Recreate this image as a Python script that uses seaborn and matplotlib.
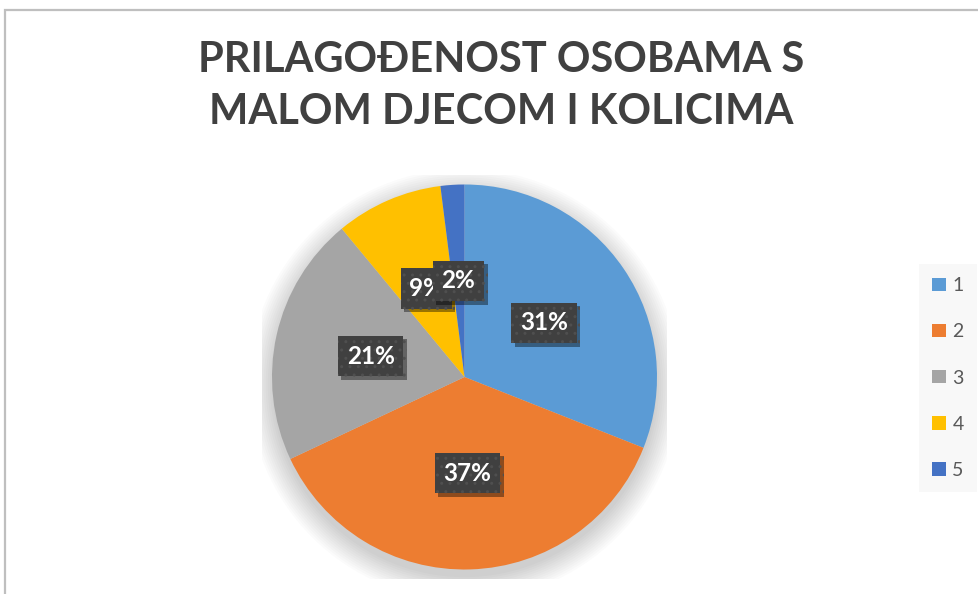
import matplotlib
matplotlib.use("Agg")
import matplotlib.pyplot as plt
import matplotlib.patheffects as pe
from matplotlib.patches import Patch, Circle, Rectangle
import seaborn as sns

# Data
categories = ["1", "2", "3", "4", "5"]
shares = [31, 37, 21, 9, 2]
slice_colors = ["#5B9BD5", "#ED7D31", "#A5A5A5", "#FFC000", "#4472C4"]
title_text = "PRILAGOĐENOST OSOBAMA S\nMALOM DJECOM I KOLICIMA"

sns.set_theme(style="white")
plt.rcParams["font.family"] = ["Lato", "DejaVu Sans"]
palette = sns.color_palette(slice_colors)

W, H = 979, 594
fig = plt.figure(figsize=(W / 100, H / 100), dpi=100)
fig.patch.set_facecolor("white")

# chart-area frame (only the top and left edges fall inside the canvas)
frame = Rectangle((5 / W, -0.05), 1.1, (H - 10) / H + 0.05,
                  transform=fig.transFigure, fill=False,
                  edgecolor="#bfbfbf", linewidth=1.6, clip_on=False)
fig.add_artist(frame)

# pie axes, centred on the plot area
cx, cy, r = 464.5, H - 377, 192.5
lim = 1.05
side = 2 * lim * r
ax = fig.add_axes([(cx - side / 2) / W, (cy - side / 2) / H, side / W, side / H])

# soft drop shadow under the pie
for i in range(12):
    ax.add_patch(Circle((0.0, -0.04), 1.0 + 0.011 * i, facecolor="black",
                        edgecolor="none", alpha=0.014, zorder=0))

wedges, texts, autotexts = ax.pie(
    shares, colors=palette, startangle=90, counterclock=False,
    autopct=lambda p: f"{p:.0f}%", pctdistance=0.5, radius=1.0,
    wedgeprops=dict(linewidth=0, zorder=1),
    textprops=dict(color="white", fontsize=17.5, fontweight="bold"),
)
ax.set_xlim(-lim, lim)
ax.set_ylim(-lim, lim)
ax.set_aspect("equal")
ax.axis("off")

for k, t in enumerate(autotexts):
    t.set_zorder(5 + k)
    t.set_bbox(dict(boxstyle="square,pad=0.36", facecolor="#404040",
                    edgecolor="#4f4f4f", hatch="..", linewidth=0))
    t.get_bbox_patch().set_path_effects([
        pe.withSimplePatchShadow(offset=(2.5, -2.5), shadow_rgbFace="black", alpha=0.4),
        pe.Normal(),
    ])

# title
fig.text(501 / W, 1 - 86 / H, title_text, ha="center", va="center",
         fontsize=30, fontweight="bold", color="#404040", linespacing=1.42)

# legend
handles = [Patch(facecolor=c, edgecolor="none", label=l) for c, l in zip(palette, categories)]
leg = fig.legend(handles=handles, loc="center", bbox_to_anchor=(948 / W, 1 - 378 / H),
                 frameon=True, fancybox=False, fontsize=14, handlelength=0.68,
                 handleheight=0.68, handletextpad=0.35, labelspacing=1.5,
                 borderpad=0.7, borderaxespad=0)
lf = leg.get_frame()
lf.set_facecolor("#f7f7f7")
lf.set_edgecolor("none")
for t in leg.get_texts():
    t.set_color("#595959")

fig.savefig("out.png", dpi=100)
